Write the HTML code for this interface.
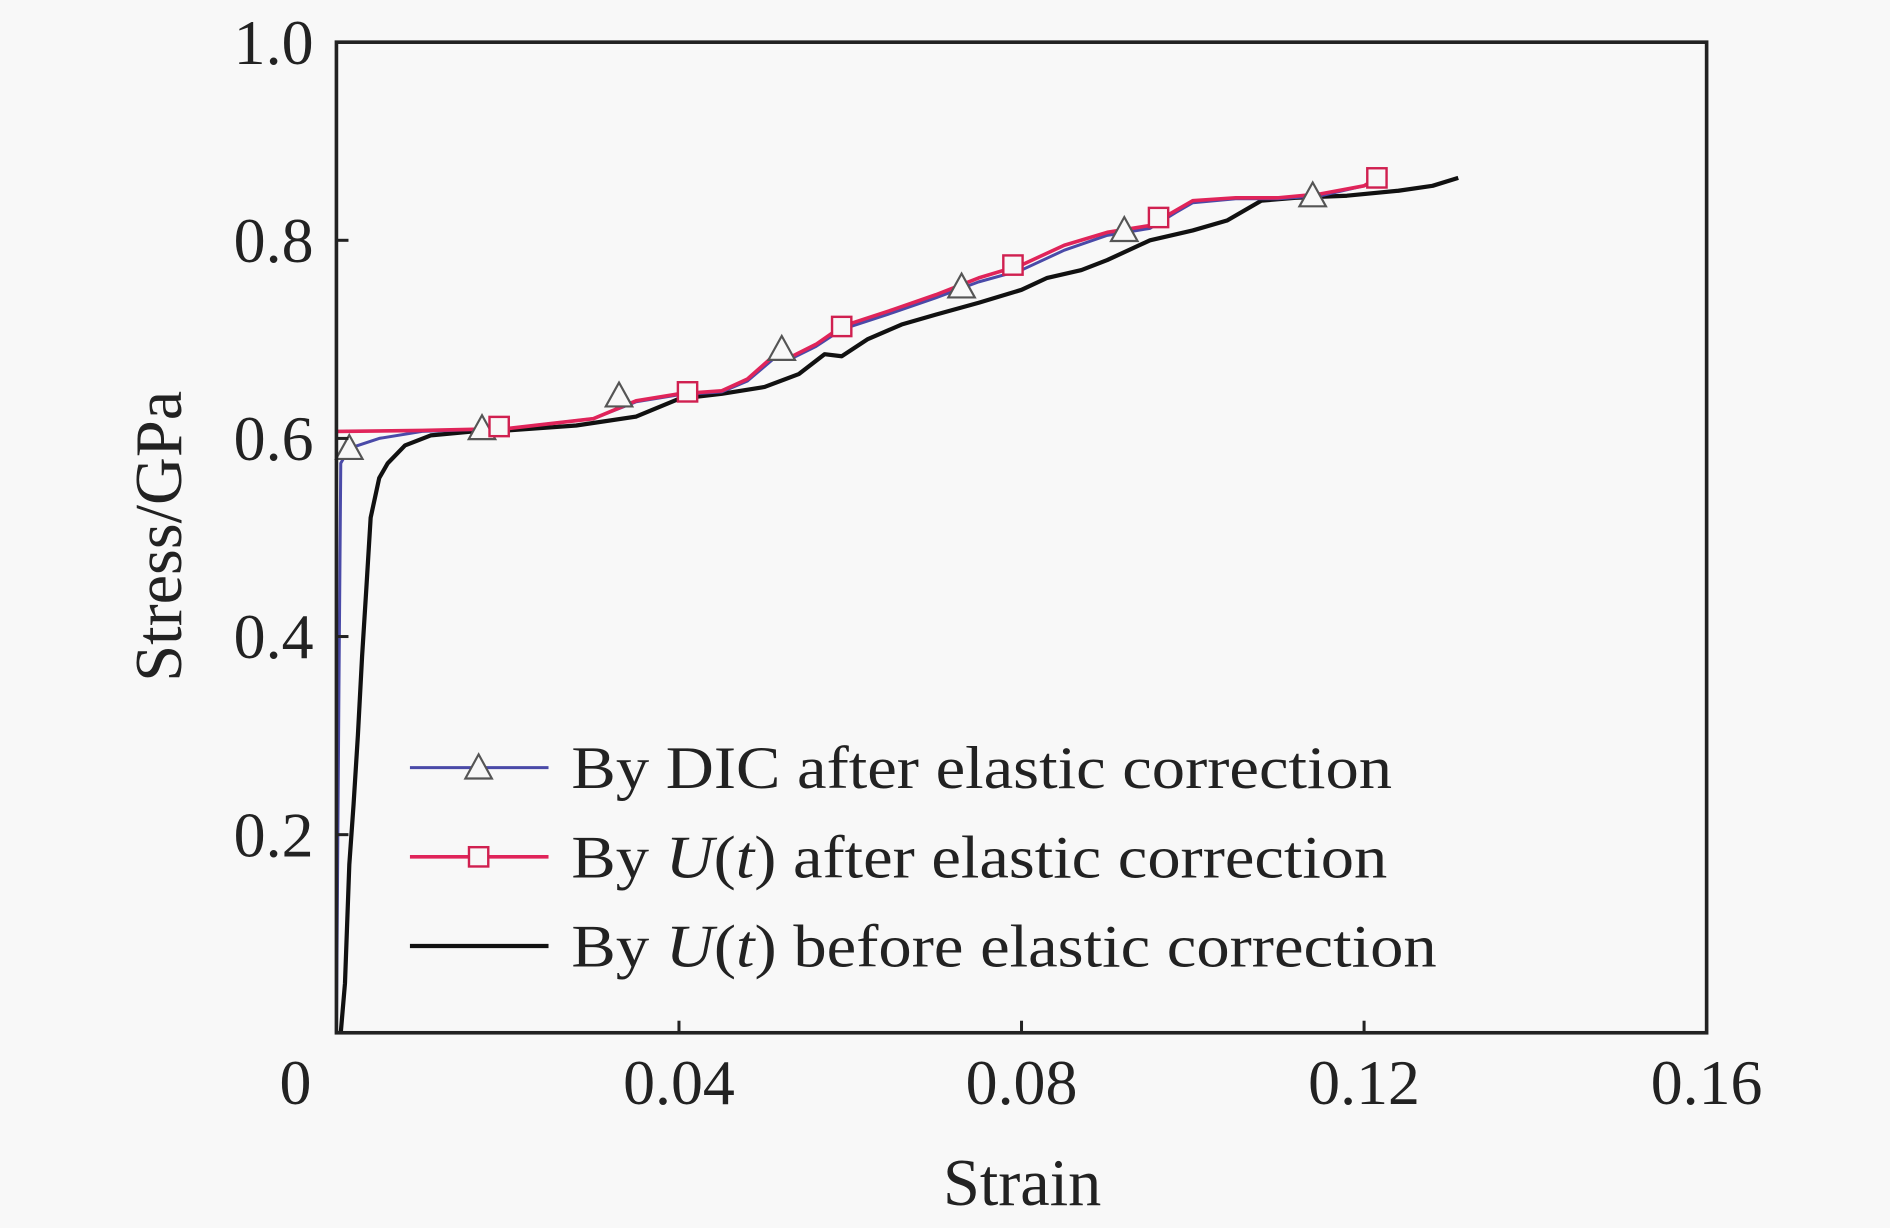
<!DOCTYPE html>
<html><head><meta charset="utf-8"><style>
html,body{margin:0;padding:0;background:#f8f8f8;}
svg{display:block;font-family:"Liberation Serif",serif;}
</style></head><body>
<svg id="chart" width="1890" height="1228" viewBox="0 0 1568 1019" xmlns="http://www.w3.org/2000/svg">
<rect width="1568" height="1019" fill="#f8f8f8"/>
<g id="plot"></g>
</svg>
<script>
const xTicks=[0,0.04,0.08,0.12,0.16];
const xTickLabels=["0","0.04","0.08","0.12","0.16"];
const yTicks=[0.2,0.4,0.6,0.8,1.0];
const yTickLabels=["0.2","0.4","0.6","0.8","1.0"];
const beforeX=[0.0005,0.001,0.0015,0.002,0.0025,0.003,0.0035,0.004,0.005,0.006,0.008,0.011,0.016,0.02,0.028,0.035,0.04,0.045,0.05,0.054,0.057,0.059,0.062,0.066,0.07,0.075,0.08,0.083,0.087,0.09,0.095,0.1,0.104,0.108,0.112,0.118,0.124,0.128,0.131];
const beforeY=[0,0.05,0.17,0.23,0.3,0.38,0.45,0.52,0.56,0.575,0.593,0.603,0.607,0.608,0.613,0.622,0.64,0.645,0.652,0.665,0.685,0.683,0.7,0.715,0.725,0.737,0.75,0.762,0.77,0.78,0.8,0.81,0.82,0.84,0.843,0.845,0.85,0.855,0.863];
const utX=[0,0.01,0.02,0.03,0.035,0.04,0.045,0.048,0.051,0.053,0.056,0.059,0.065,0.07,0.075,0.08,0.085,0.09,0.095,0.098,0.1,0.105,0.11,0.115,0.12,0.1215];
const utY=[0.607,0.608,0.61,0.62,0.638,0.645,0.648,0.66,0.683,0.682,0.695,0.713,0.73,0.745,0.762,0.775,0.795,0.808,0.815,0.83,0.84,0.843,0.843,0.847,0.855,0.863];
const utMarkX=[0.019,0.041,0.059,0.079,0.096,0.1215];
const utMarkY=[0.612,0.647,0.713,0.775,0.823,0.863];
const dicX=[0,0.0003,0.0005,0.0015,0.005,0.01,0.02,0.03,0.035,0.04,0.045,0.048,0.051,0.053,0.056,0.059,0.065,0.07,0.075,0.08,0.085,0.09,0.095,0.098,0.1,0.105,0.11,0.115,0.12,0.1215];
const dicY=[0,0.35,0.575,0.59,0.6,0.607,0.61,0.62,0.637,0.644,0.647,0.658,0.68,0.68,0.693,0.71,0.727,0.742,0.758,0.77,0.79,0.805,0.812,0.828,0.838,0.842,0.842,0.845,0.855,0.86];
const dicMarkX=[0.0015,0.017,0.033,0.052,0.073,0.092,0.114];
const dicMarkY=[0.59,0.61,0.643,0.69,0.753,0.81,0.845];

const L=279,R=1416,T=35,B=857;
const sx=v=>L+(v/0.16)*(R-L);
const sy=v=>B-(v/1.0)*(B-T);
const NS="http://www.w3.org/2000/svg";
const g=document.getElementById('plot');
function mk(tag,at,parent){const e=document.createElementNS(NS,tag);for(const k in at)e.setAttribute(k,at[k]);(parent||g).appendChild(e);return e;}
function pathD(xs,ys){return xs.map((x,i)=>(i?'L':'M')+sx(x).toFixed(1)+' '+sy(ys[i]).toFixed(1)).join(' ');}

let e;
e=mk('path',{d:pathD(beforeX,beforeY),fill:'none',stroke:'#111',"stroke-width":3.5,"stroke-linejoin":"round"});


e=mk('path',{d:pathD(dicX,dicY),fill:'none',stroke:'#4a4aa8',"stroke-width":2.5,"stroke-linejoin":"round"});


e=mk('path',{d:pathD(utX,utY),fill:'none',stroke:'#e0245a',"stroke-width":3,"stroke-linejoin":"round"});


function tri(cx,cy,parent){const s=11;return mk('polygon',{points:`${cx},${cy-s} ${cx-s},${cy+s*0.8} ${cx+s},${cy+s*0.8}`,fill:'#f8f8f8',stroke:'#555',"stroke-width":1.8},parent);}
function sq(cx,cy,parent){return mk('rect',{x:cx-8,y:cy-8,width:16,height:16,fill:'#f8f8f8',stroke:'#d02050',"stroke-width":2},parent);}
dicMarkX.forEach((x,i)=>{e=tri(sx(x),sy(dicMarkY[i]));

});
utMarkX.forEach((x,i)=>{e=sq(sx(x),sy(utMarkY[i]));

});

e=mk('rect',{x:L,y:T,width:R-L,height:B-T,fill:'none',stroke:'#222',"stroke-width":3});


xTicks.forEach((v,i)=>{
 if(i>0&&i<xTicks.length-1){e=mk('line',{x1:sx(v),x2:sx(v),y1:B,y2:B-10,stroke:'#222',"stroke-width":2.5});
 
 }
 const t=mk('text',{x:i===0?sx(v)-34:sx(v),y:916,"text-anchor":"middle","font-size":53,fill:'#222'});
 t.textContent=xTickLabels[i];
 
 
});
yTicks.forEach((v,i)=>{
 if(i<yTicks.length-1){e=mk('line',{x1:L,x2:L+10,y1:sy(v),y2:sy(v),stroke:'#222',"stroke-width":2.5});
 
 }
 const t=mk('text',{x:260,y:sy(v)+18,"text-anchor":"end","font-size":53,fill:'#222'});
 t.textContent=yTickLabels[i];
 
 
});
</script>
<svg style="position:absolute;left:0;top:0" width="1890" height="1228" viewBox="0 0 1568 1019" xmlns="http://www.w3.org/2000/svg" font-family="Liberation Serif, serif" fill="#222">
<text x="848" y="1000" text-anchor="middle" font-size="55">Strain</text>
<text transform="translate(150,445) rotate(-90)" text-anchor="middle" font-size="55">Stress/GPa</text>
<g font-size="50">
<g>
<line x1="340" x2="455" y1="637" y2="637" stroke="#4a4aa8" stroke-width="2.5"/>
<polygon points="397,626 386,646 408,646" fill="#f8f8f8" stroke="#555" stroke-width="1.8"/>
<text x="474" y="654" textLength="681" lengthAdjust="spacingAndGlyphs">By DIC after elastic correction</text></g>
<g>
<line x1="340" x2="455" y1="711" y2="711" stroke="#e0245a" stroke-width="3"/>
<rect x="389" y="703" width="16" height="16" fill="#f8f8f8" stroke="#d02050" stroke-width="2"/>
<text x="474" y="728" textLength="677" lengthAdjust="spacingAndGlyphs">By <tspan font-style="italic">U</tspan>(<tspan font-style="italic">t</tspan>) after elastic correction</text></g>
<g>
<line x1="340" x2="455" y1="785" y2="785" stroke="#111" stroke-width="3.5"/>
<text x="474" y="802" textLength="718" lengthAdjust="spacingAndGlyphs">By <tspan font-style="italic">U</tspan>(<tspan font-style="italic">t</tspan>) before elastic correction</text></g>
</g>
</svg>
</body></html>
